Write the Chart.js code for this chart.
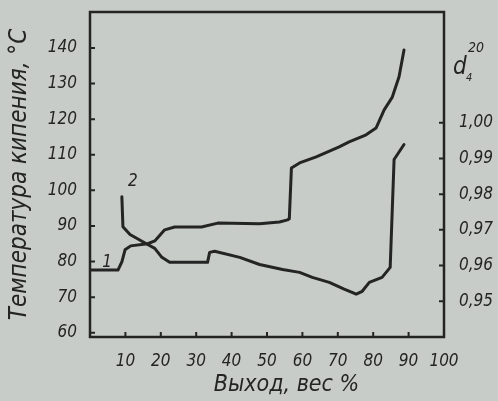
<!DOCTYPE html>
<html>
<head>
<meta charset="utf-8">
<script src="https://cdn.jsdelivr.net/npm/chart.js@4/dist/chart.umd.min.js"></script>
<style>
  html, body { margin: 0; padding: 0; background: #c7ccc8; }
  canvas { display: block; }
</style>
</head>
<body>
<canvas id="chart" width="498" height="401"></canvas>
<script>
// curve 1 - boiling temperature, left axis
const yieldT = [0, 7.9, 9.0, 9.9, 11.5, 16.3, 18.3, 21.1, 23.9, 31.5, 36.1, 47.9, 53.5, 55.8, 56.3, 56.9, 59.2, 63.9, 70.4, 73.2, 78.0, 80.8, 83.1, 85.4, 87.3, 88.7];
const tempC  = [77.6, 77.6, 79.9, 83.3, 84.4, 85.0, 85.8, 88.9, 89.7, 89.7, 90.8, 90.6, 91.1, 91.7, 92.0, 106.3, 107.7, 109.4, 112.2, 113.6, 115.6, 117.5, 122.6, 126.2, 131.9, 139.4];

// curve 2 - density d4(20), right axis
const yieldD  = [9.0, 9.3, 11.3, 16.3, 18.3, 20.3, 22.5, 33.2, 33.8, 35.2, 42.3, 47.9, 54.4, 59.2, 62.8, 67.6, 71.8, 75.2, 76.9, 78.9, 82.5, 84.8, 85.9, 88.7];
const density = [0.9793, 0.9709, 0.9687, 0.9659, 0.9648, 0.9623, 0.9609, 0.9609, 0.9637, 0.9640, 0.9623, 0.9603, 0.9589, 0.9581, 0.9567, 0.9553, 0.9534, 0.9520, 0.9528, 0.9553, 0.9567, 0.9595, 0.9897, 0.9939];

const yieldTicks = [10, 20, 30, 40, 50, 60, 70, 80, 90, 100];
const tempTicks = [60, 70, 80, 90, 100, 110, 120, 130, 140];
const densityTicks = [0.95, 0.96, 0.97, 0.98, 0.99, 1.00];

const ink = "#242424";
const fontFamily = "'DejaVu Sans Condensed', 'DejaVu Sans', sans-serif";

function pairs(xs, ys) {
  return xs.map((x, i) => ({ x: x, y: ys[i] }));
}

function fixTicks(list) {
  return function(scale) {
    scale.ticks = list.map(v => ({ value: v }));
  };
}

// no extra room for labels sticking past the ends of an axis
function noEndPadding(scale) {
  scale.paddingTop = 0;
  scale.paddingBottom = 0;
  scale.paddingLeft = 0;
  scale.paddingRight = 0;
}

// frame, inward tick marks, curve numbers, x title and the d4(20) heading
const decorations = {
  id: "decorations",
  afterDraw(chart) {
    const ctx = chart.ctx;
    const area = chart.chartArea;
    const sx = chart.scales.x, sT = chart.scales.yT, sD = chart.scales.yD;
    ctx.save();
    ctx.strokeStyle = ink;
    ctx.lineWidth = 2.5;
    ctx.strokeRect(area.left, area.top, area.right - area.left, area.bottom - area.top);

    ctx.lineWidth = 2;
    ctx.beginPath();
    yieldTicks.forEach(v => {
      const px = sx.getPixelForValue(v);
      ctx.moveTo(px, area.bottom);
      ctx.lineTo(px, area.bottom - 5);
    });
    tempTicks.forEach(v => {
      const py = sT.getPixelForValue(v);
      ctx.moveTo(area.left, py);
      ctx.lineTo(area.left + 5, py);
    });
    densityTicks.forEach(v => {
      const py = sD.getPixelForValue(v);
      ctx.moveTo(area.right, py);
      ctx.lineTo(area.right - 5, py);
    });
    ctx.stroke();

    ctx.fillStyle = ink;
    ctx.font = "italic 17px " + fontFamily;
    ctx.textAlign = "center";
    ctx.textBaseline = "middle";
    ctx.fillText("1", sx.getPixelForValue(4.8), sT.getPixelForValue(79.6));
    ctx.fillText("2", sx.getPixelForValue(12.1), sT.getPixelForValue(102.4));

    // x axis title sits a little right of the axis middle
    ctx.font = "italic 23px " + fontFamily;
    ctx.fillText("Выход, вес %", sx.getPixelForValue(55.5), area.bottom + 48);

    ctx.textAlign = "left";
    ctx.textBaseline = "alphabetic";
    ctx.font = "italic 24px " + fontFamily;
    ctx.fillText("d", area.right + 9, area.top + 62);
    ctx.font = "italic 11px " + fontFamily;
    ctx.fillText("4", area.right + 22, area.top + 69);
    ctx.font = "italic 14px " + fontFamily;
    ctx.fillText("20", area.right + 24, area.top + 40);
    ctx.restore();
  }
};

const tickFont = { family: fontFamily, size: 17, style: "italic" };

new Chart(document.getElementById("chart"), {
  type: "scatter",
  data: {
    datasets: [
      {
        label: "1",
        data: pairs(yieldT, tempC),
        yAxisID: "yT",
        showLine: true,
        borderColor: ink,
        borderWidth: 3,
        pointRadius: 0,
        borderJoinStyle: "round",
        borderCapStyle: "round"
      },
      {
        label: "2",
        data: pairs(yieldD, density),
        yAxisID: "yD",
        showLine: true,
        borderColor: ink,
        borderWidth: 3,
        pointRadius: 0,
        borderJoinStyle: "round",
        borderCapStyle: "round"
      }
    ]
  },
  options: {
    responsive: false,
    animation: false,
    layout: { padding: { top: 12 } },
    plugins: {
      legend: { display: false },
      tooltip: { enabled: false }
    },
    scales: {
      x: {
        type: "linear",
        min: 0,
        max: 100,
        afterBuildTicks: fixTicks(yieldTicks),
        afterFit(scale) { scale.height = 64; noEndPadding(scale); },
        grid: { display: false },
        border: { display: false },
        ticks: { color: ink, font: tickFont, padding: 6, maxRotation: 0 }
      },
      yT: {
        position: "left",
        min: 58.8,
        max: 150.1,
        afterBuildTicks: fixTicks(tempTicks),
        afterFit(scale) { scale.width = 90; noEndPadding(scale); },
        grid: { display: false },
        border: { display: false },
        ticks: { color: ink, font: tickFont, padding: 5 },
        title: {
          display: true,
          text: "Температура кипения, °C",
          color: ink,
          font: { family: fontFamily, size: 24, style: "italic" },
          padding: { top: 5, bottom: 0 }
        }
      },
      yD: {
        position: "right",
        min: 0.940,
        max: 1.031,
        afterBuildTicks: fixTicks(densityTicks),
        afterFit(scale) { scale.width = 54; noEndPadding(scale); },
        grid: { display: false },
        border: { display: false },
        ticks: {
          color: ink,
          font: tickFont,
          padding: 7,
          callback: v => v.toFixed(2).replace(".", ",")
        }
      }
    }
  },
  plugins: [decorations]
});
</script>
</body>
</html>
